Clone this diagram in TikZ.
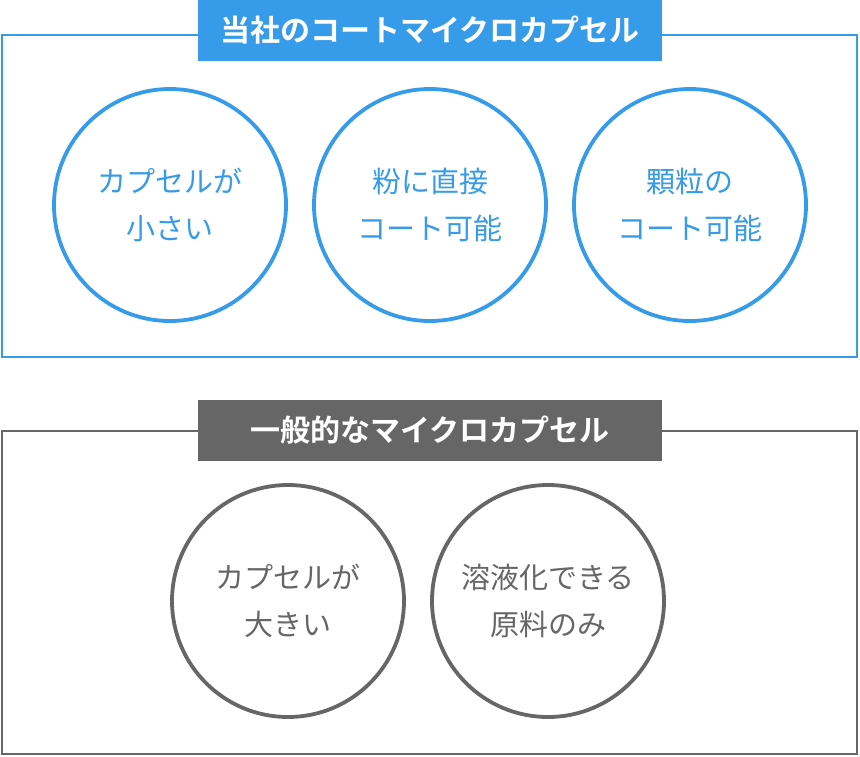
\documentclass[tikz,border=0pt]{standalone}
\usepackage{fontspec}
\setmainfont{Noto Sans CJK JP}[BoldFont={Noto Sans CJK JP Bold}]
\usepackage{tikz}
\usetikzlibrary{positioning}
\definecolor{capblue}{RGB}{54,155,232}
\definecolor{capgray}{RGB}{102,102,102}

\begin{document}
\begin{tikzpicture}[x=1pt, y=-1pt,
	frame/.style={draw=#1, line width=2pt},
	titlebox/.style={fill=#1, text=white, inner sep=0pt, minimum width=464pt, minimum height=61pt, font=\bfseries\fontsize{30}{34}\selectfont},
	merit/.style={circle, draw=#1, text=#1, line width=3.8pt, minimum size=232pt, inner sep=0pt, align=center, font=\fontsize{29}{47}\selectfont}]
		\useasboundingbox (0,0) rectangle (860,756);
		
		% our coat microcapsule
		\draw[frame=capblue] (2,35) rectangle (857,357);
		\node[titlebox=capblue] (ourtitle) at (430,30.5) {当社のコートマイクロカプセル};
		\node[merit=capblue] (oursmall) at (170,205) {カプセルが\\小さい};
		\node[merit=capblue] (ourpowder) at (430,205) {粉に直接\\コート可能};
		\node[merit=capblue] (ourgranule) at (690,205) {顆粒の\\コート可能};
		
		% general microcapsule
		\draw[frame=capgray] (2,431) rectangle (857,754);
		\node[titlebox=capgray] (gentitle) at (430,430.5) {一般的なマイクロカプセル};
		\node[merit=capgray] (genlarge) at (288,601) {カプセルが\\大きい};
		\node[merit=capgray] (gensolution) at (548,601) {溶液化できる\\原料のみ};
\end{tikzpicture}
\end{document}
